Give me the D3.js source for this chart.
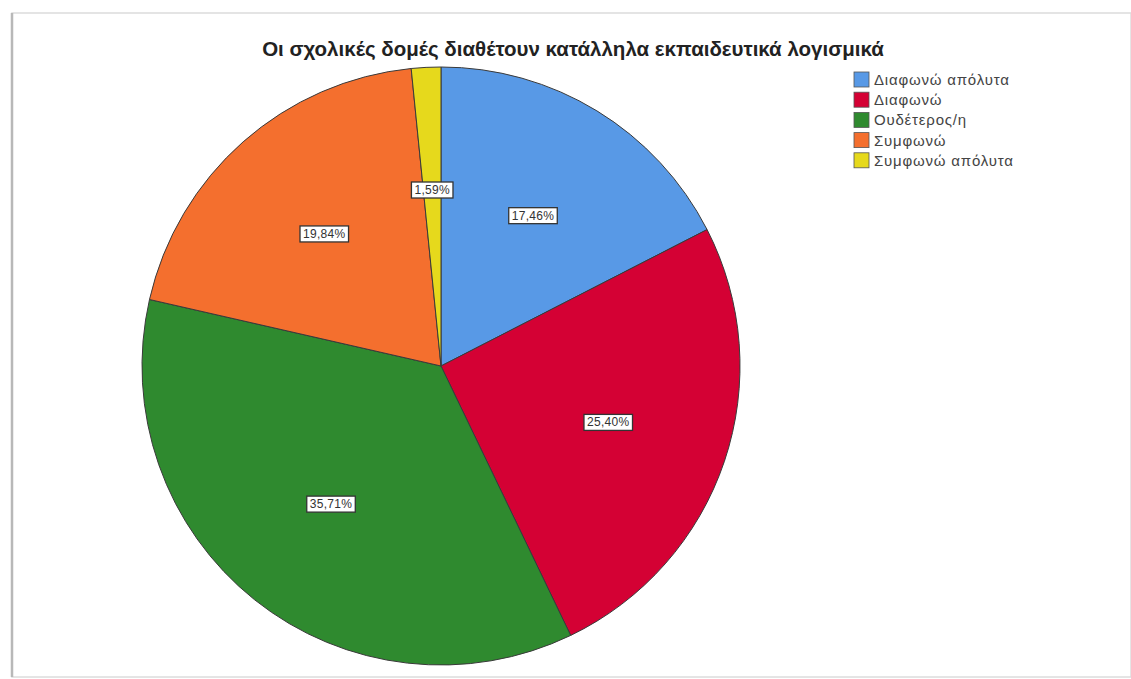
<!DOCTYPE html>
<html><head><meta charset="utf-8">
<script src="https://cdn.jsdelivr.net/npm/d3@7"></script>
<style>body{margin:0;background:#fff}svg{display:block}</style>
</head><body>
<script>
const categories = ["Διαφωνώ απόλυτα","Διαφωνώ","Ουδέτερος/η","Συμφωνώ","Συμφωνώ απόλυτα"];
const values = [17.46, 25.40, 35.71, 19.84, 1.59];
const colors = ["#5899e6","#d40134","#2f8a2f","#f46f2e","#e6d91c"];
const title = "Οι σχολικές δομές διαθέτουν κατάλληλα εκπαιδευτικά λογισμικά";

const W = 1131, H = 679;
const svg = d3.select("body").append("svg").attr("width", W).attr("height", H);

// frame
svg.append("rect").attr("x",12).attr("y",13).attr("width",W-12).attr("height",664)
  .attr("fill","#fff").attr("stroke","#dcdcdc").attr("stroke-width",1.5);
svg.append("line").attr("x1",12).attr("x2",12).attr("y1",13).attr("y2",677)
  .attr("stroke","#b8b8b8").attr("stroke-width",2.5);

svg.append("text").attr("x",573).attr("y",56).attr("text-anchor","middle")
  .attr("font-family","Liberation Sans, Arial, sans-serif").attr("font-weight","bold")
  .attr("font-size",20.5).attr("fill","#222").text(title);

const cx = 441, cy = 366, R = 299;
const data = categories.map((c,i)=>({cat:c, value:values[i], color:colors[i]}));
const pie = d3.pie().value(d=>d.value).sort(null);
const arc = d3.arc().innerRadius(0).outerRadius(R);
const labelArc = d3.arc().innerRadius(R*0.59).outerRadius(R*0.59);
const g = svg.append("g").attr("transform",`translate(${cx},${cy})`);
const arcs = pie(data);
g.selectAll("path").data(arcs).join("path").attr("d",arc)
  .attr("fill",d=>d.data.color).attr("stroke","#3a3a3a").attr("stroke-width",1);

const fmt = v => v.toFixed(2).replace(".",",") + "%";
const lg = g.selectAll("g.lbl").data(arcs).join("g").attr("class","lbl")
  .attr("transform",d=>{const p = labelArc.centroid(d); return `translate(${p[0]},${p[1]})`;});
lg.each(function(d){
  const sel = d3.select(this);
  const t = sel.append("text").attr("text-anchor","middle").attr("dy","0.35em")
    .attr("font-family","Liberation Sans, Arial, sans-serif").attr("font-size",12)
    .attr("letter-spacing",0.3).attr("fill","#333").text(fmt(d.data.value));
  const bb = t.node().getBBox();
  sel.insert("rect","text").attr("x",bb.x-3).attr("y",bb.y-1).attr("width",bb.width+6).attr("height",bb.height+2)
    .attr("fill","#fff").attr("stroke","#333").attr("stroke-width",1.3);
});

// legend
const leg = svg.append("g").attr("transform","translate(854,72)");
const li = leg.selectAll("g").data(data).join("g").attr("transform",(d,i)=>`translate(0,${i*20.2})`);
li.append("rect").attr("width",15).attr("height",15).attr("fill",d=>d.color).attr("stroke","#555").attr("stroke-width",0.8);
li.append("text").attr("x",20).attr("y",13).attr("font-family","Liberation Sans, Arial, sans-serif")
  .attr("font-size",15).attr("letter-spacing",0.8).attr("fill","#444").text(d=>d.cat);
</script>
</body></html>
